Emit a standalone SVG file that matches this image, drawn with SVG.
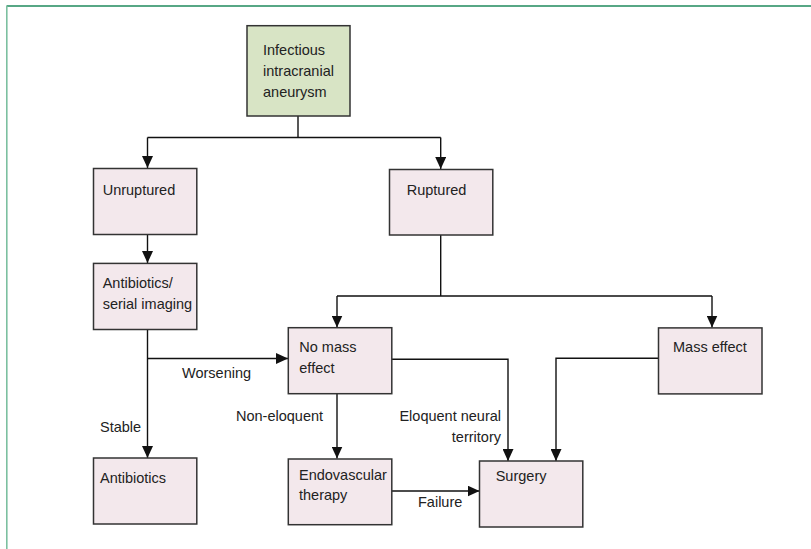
<svg xmlns="http://www.w3.org/2000/svg" width="811" height="549" viewBox="0 0 811 549">
<defs>
<style>
.box{fill:#f3e8ec;stroke:#333;stroke-width:1.5}
.start{fill:#d8e4c5;stroke:#333;stroke-width:1.5}
text{font-family:"Liberation Sans",Arial,sans-serif;font-size:14.5px;fill:#222}
.c{fill:none;stroke:#111;stroke-width:1.4}
</style>
<marker id="ah" viewBox="0 0 12 11" refX="12" refY="5.5" markerWidth="12" markerHeight="11" markerUnits="userSpaceOnUse" orient="auto">
<path d="M0,0 L12,5.5 L0,11 Z" fill="#111"/>
</marker>
</defs>
<rect width="811" height="549" fill="#fff"/>
<line x1="6.5" y1="6" x2="811" y2="6" stroke="#1f8a5c" stroke-width="1.5"/>
<line x1="6.8" y1="6" x2="6.8" y2="549" stroke="#7cc0a0" stroke-width="1.6"/>
<g id="connectors">
<path class="c" d="M298,116 V137.5"/>
<path class="c" d="M147.5,137.5 H440.7"/>
<path class="c" d="M147.5,137.5 V168" marker-end="url(#ah)"/>
<path class="c" d="M440.7,137.5 V169" marker-end="url(#ah)"/>
<path class="c" d="M147.5,234.5 V263" marker-end="url(#ah)"/>
<path class="c" d="M147.5,329.5 V458" marker-end="url(#ah)"/>
<path class="c" d="M147.5,358.5 H288" marker-end="url(#ah)"/>
<path class="c" d="M440.7,235 V296 M337,296 H712"/>
<path class="c" d="M337,296 V327.5" marker-end="url(#ah)"/>
<path class="c" d="M712,296 V327.5" marker-end="url(#ah)"/>
<path class="c" d="M337,393.5 V458.5" marker-end="url(#ah)"/>
<path class="c" d="M392,359.3 H508 V461" marker-end="url(#ah)"/>
<path class="c" d="M658.5,358.3 H556 V461" marker-end="url(#ah)"/>
<path class="c" d="M391.5,491 H479.5" marker-end="url(#ah)"/>
<text x="182" y="377.7">Worsening</text>
<text x="100" y="432">Stable</text>
<text x="236" y="421">Non-eloquent</text>
<text x="501" y="421" text-anchor="end">Eloquent neural</text>
<text x="501" y="441.7" text-anchor="end">territory</text>
<text x="418" y="506.7">Failure</text>
</g>
<g id="n-infectious">
<rect class="start" x="247" y="25.7" width="103" height="90.3"/>
<text x="263" y="55">Infectious</text>
<text x="263" y="76">intracranial</text>
<text x="263" y="97">aneurysm</text>
</g>
<g id="n-unruptured">
<rect class="box" x="93.5" y="168.5" width="103.3" height="66"/>
<text x="102.7" y="195">Unruptured</text>
</g>
<g id="n-ruptured">
<rect class="box" x="389.5" y="169.5" width="103.3" height="65.5"/>
<text x="406.7" y="195">Ruptured</text>
</g>
<g id="n-antibiotics-serial">
<rect class="box" x="93.5" y="263.4" width="103.3" height="66.1"/>
<text x="102.7" y="288.3">Antibiotics/</text>
<text x="102.7" y="309">serial imaging</text>
</g>
<g id="n-no-mass">
<rect class="box" x="288.3" y="327.7" width="103.5" height="66"/>
<text x="299.3" y="352.3">No mass</text>
<text x="299.3" y="372.7">effect</text>
</g>
<g id="n-mass">
<rect class="box" x="658.5" y="327.9" width="103.5" height="66"/>
<text x="673" y="351.7">Mass effect</text>
</g>
<g id="n-antibiotics">
<rect class="box" x="93.5" y="458" width="103.3" height="66"/>
<text x="100" y="482.5">Antibiotics</text>
</g>
<g id="n-endovascular">
<rect class="box" x="288.3" y="459" width="103.5" height="65.7"/>
<text x="299" y="479.5">Endovascular</text>
<text x="299" y="500">therapy</text>
</g>
<g id="n-surgery">
<rect class="box" x="479.5" y="461" width="103.3" height="66"/>
<text x="495.7" y="480.7">Surgery</text>
</g>
</svg>
